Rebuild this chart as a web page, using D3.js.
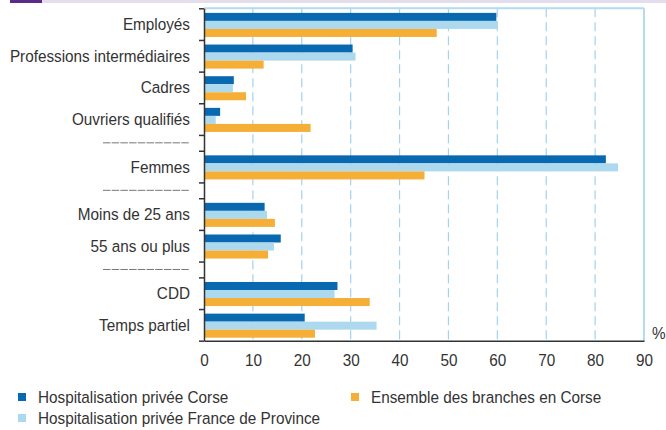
<!DOCTYPE html>
<html>
<head>
<meta charset="utf-8">
<script src="https://cdn.jsdelivr.net/npm/d3@7"></script>
<style>
body { margin: 0; background: #fff; }
text { font-family: "Liberation Sans", Arial, sans-serif; fill: #333; }
</style>
</head>
<body>
<div id="chart"></div>
<script>
// null = blank separator row (half height, dashed rule in the label area)
var categories = ["Employés", "Professions intermédiaires", "Cadres", "Ouvriers qualifiés", null, "Femmes", null, "Moins de 25 ans", "55 ans ou plus", null, "CDD", "Temps partiel"];
var corse = [59.8, 30.4, 6.1, 3.3, null, 82.2, null, 12.4, 15.7, null, 27.3, 20.6];
var province = [60.1, 31.0, 5.9, 2.4, null, 84.7, null, 12.9, 14.3, null, 26.7, 35.3];
var ensemble = [47.6, 12.2, 8.6, 21.8, null, 45.1, null, 14.5, 13.1, null, 33.9, 22.7];
var seriesNames = ["Hospitalisation privée Corse", "Hospitalisation privée France de Province", "Ensemble des branches en Corse"];
var seriesColors = ["#0869b1", "#acd9ee", "#f5af36"];
var xTicks = [0, 10, 20, 30, 40, 50, 60, 70, 80, 90];

var svgWidth = 666;
var svgHeight = 430;
var margin = { top: 8.3, left: 204, right: 22, bottom: 89.3 };
var width = svgWidth - margin.left - margin.right;
var height = svgHeight - margin.top - margin.bottom;
var FS = 17, SX = 0.9;

var svg = d3.select("#chart").append("svg").attr("width", svgWidth).attr("height", svgHeight);

// header strip
svg.append("rect").attr("x", 10).attr("y", 0).attr("width", 32).attr("height", 3).attr("fill", "#5b2b88");
svg.append("rect").attr("x", 42).attr("y", 0).attr("width", svgWidth - 42).attr("height", 3).attr("fill", "#e3ddec");

var chartGroup = svg.append("g").attr("transform", `translate(${margin.left},${margin.top})`);

// slot layout: full rows = 1, separators = 0.5
var rows = [];
var pos = 0;
categories.forEach(function(c, i) {
    var size = c ? 1 : 0.5;
    rows.push({ name: c, start: pos, size: size, values: [corse[i], province[i], ensemble[i]] });
    pos += size;
});
var bounds = [0].concat(rows.map(r => r.start + r.size));

var xScale = d3.scaleLinear().domain([0, 90]).range([0, width]);
var yPos = d3.scaleLinear().domain([0, pos]).range([0, height]);
var inner = d3.scaleBand().domain([0, 1, 2]).range([0.145, 0.905]);

// dashed gridlines
chartGroup.selectAll(".grid").data(xTicks.slice(1, -1)).enter().append("line")
    .attr("x1", d => xScale(d)).attr("x2", d => xScale(d))
    .attr("y1", 0).attr("y2", height)
    .attr("stroke", "#a3d2ef").attr("stroke-width", 1.2).attr("stroke-dasharray", "9,5");

// light frame on top and right
chartGroup.append("line").attr("x1", 0).attr("x2", width).attr("y1", 0).attr("y2", 0)
    .attr("stroke", "#b3dcf1").attr("stroke-width", 2);
chartGroup.append("line").attr("x1", width).attr("x2", width).attr("y1", 0).attr("y2", height)
    .attr("stroke", "#b3dcf1").attr("stroke-width", 2);

// bars
var rowGroups = chartGroup.selectAll(".row").data(rows.filter(r => r.name)).enter().append("g")
    .attr("transform", d => `translate(0,${yPos(d.start)})`);
rowGroups.selectAll("rect").data(d => d.values).enter().append("rect")
    .attr("x", 0)
    .attr("y", (d, i) => yPos(inner(i)))
    .attr("width", d => xScale(d))
    .attr("height", yPos(inner.bandwidth()))
    .attr("fill", (d, i) => seriesColors[i]);

// axes
var xAxis = chartGroup.append("g").attr("transform", `translate(0,${height})`)
    .call(d3.axisBottom(xScale).tickValues(xTicks).tickSize(0).tickPadding(13.7));
xAxis.select(".domain").attr("stroke", "#333").attr("stroke-width", 1.5);
xAxis.selectAll("text").attr("font-size", FS).attr("fill", "#333")
    .attr("font-family", "Liberation Sans, Arial, sans-serif")
    .attr("transform", `scale(${SX},1)`);

var yAxis = chartGroup.append("g")
    .call(d3.axisLeft(yPos).tickValues(bounds).tickSize(5).tickSizeOuter(0).tickFormat(""));
yAxis.select(".domain").attr("stroke", "#333").attr("stroke-width", 1.5);
yAxis.selectAll(".tick line").attr("stroke", "#333").attr("stroke-width", 1.5);

// category labels
chartGroup.selectAll(".label").data(rows.filter(r => r.name)).enter().append("text")
    .attr("transform", d => `translate(-14,${yPos(d.start + d.size / 2) + 6}) scale(${SX},1)`)
    .attr("text-anchor", "end").attr("font-size", FS)
    .text(d => d.name);

// separator rules
chartGroup.selectAll(".sep").data(rows.filter(r => !r.name)).enter().append("line")
    .attr("x1", -101).attr("x2", -14)
    .attr("y1", d => yPos(d.start + d.size / 2)).attr("y2", d => yPos(d.start + d.size / 2))
    .attr("stroke", "#777").attr("stroke-width", 1).attr("stroke-dasharray", "7.5,1.2");

// unit
chartGroup.append("text")
    .attr("transform", `translate(${width + 8},${height - 2}) scale(${SX},1)`)
    .attr("font-size", FS).text("%");

// legend
var legendPos = [[18, 393], [18, 414], [351, 393]];
var legend = svg.selectAll(".legend").data(seriesNames).enter().append("g")
    .attr("transform", (d, i) => `translate(${legendPos[i][0]},${legendPos[i][1]})`);
legend.append("rect").attr("width", 8).attr("height", 8).attr("fill", (d, i) => seriesColors[i]);
legend.append("text").attr("transform", `translate(20,9.5) scale(${SX},1)`)
    .attr("font-size", FS).text(d => d);
</script>
</body>
</html>
